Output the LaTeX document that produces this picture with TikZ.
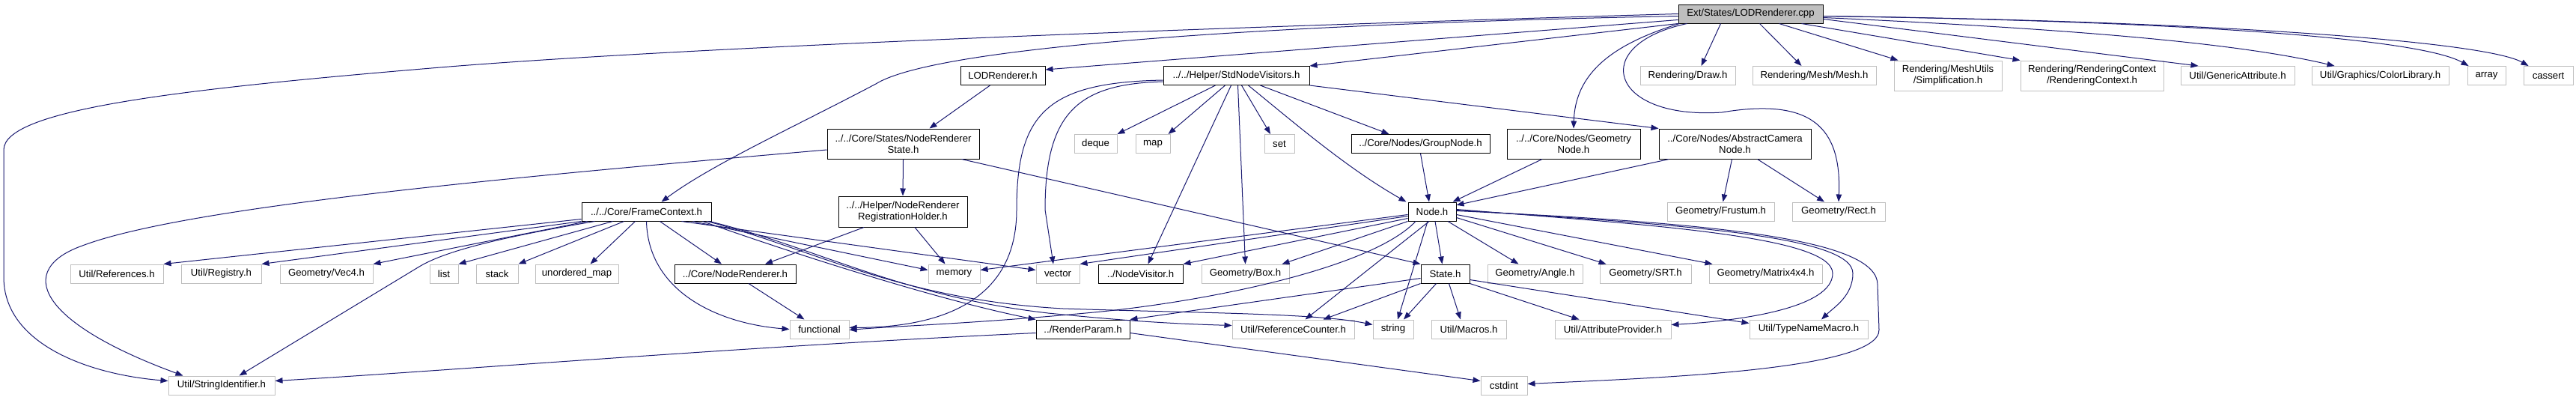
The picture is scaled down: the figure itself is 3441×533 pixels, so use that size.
\documentclass[tikz,border=0pt]{standalone}
\usepackage{fontspec}
\setmainfont{Liberation Sans}
\usepackage{tikz}
\usepackage{xcolor}
\usetikzlibrary{arrows.meta}
\definecolor{edgeblue}{RGB}{25,25,112}
\definecolor{extgray}{RGB}{191,191,191}

\begin{document}
\begin{tikzpicture}[x=1pt, y=-1pt, line width=1pt,
  hdr/.style={draw=black, font=\fontsize{13.2}{15}\selectfont, inner sep=0pt, minimum height=25pt, align=center},
  sysh/.style={hdr, draw=extgray},
  dep/.style={color=edgeblue, -{Triangle[length=10pt, width=7.5pt]}}]
  \useasboundingbox (0,0) rectangle (3441,533);

  % top
  \node[hdr, fill=extgray, minimum width=193pt] (root) at (2338.5,18.5) {Ext/States/LODRenderer.cpp};

  % second row
  \node[hdr, minimum width=113pt] (lodh) at (1339.5,101) {LODRenderer.h};
  \node[hdr, minimum width=195pt] (stdvis) at (1651.5,101) {../../Helper/StdNodeVisitors.h};
  \node[sysh, minimum width=127pt] (drawh) at (2254.5,101) {Rendering/Draw.h};
  \node[sysh, minimum width=165pt] (meshh) at (2423.5,101) {Rendering/Mesh/Mesh.h};
  \node[sysh, minimum width=144pt, minimum height=40pt] (simplh) at (2602,101) {Rendering/MeshUtils\\/Simplification.h};
  \node[sysh, minimum width=191pt, minimum height=40pt] (rctxh) at (2794.5,101) {Rendering/RenderingContext\\/RenderingContext.h};
  \node[sysh, minimum width=152pt] (gattr) at (2989,101) {Util/GenericAttribute.h};
  \node[sysh, minimum width=183pt] (colib) at (3179.5,101) {Util/Graphics/ColorLibrary.h};
  \node[sysh, minimum width=51pt] (arrayh) at (3321.5,101) {array};
  \node[sysh, minimum width=66pt] (cassrt) at (3404,101) {cassert};

  % third row
  \node[hdr, minimum width=203pt, minimum height=40pt] (nrstate) at (1206.5,192) {../../Core/States/NodeRenderer\\State.h};
  \node[sysh, minimum width=57pt] (deque) at (1463.5,192) {deque};
  \node[sysh, minimum width=46pt] (maph) at (1540,192) {map};
  \node[sysh, minimum width=40pt] (seth) at (1709,192) {set};
  \node[hdr, minimum width=185pt] (grpnode) at (1897.5,192) {../Core/Nodes/GroupNode.h};
  \node[hdr, minimum width=178pt, minimum height=40pt] (geonode) at (2102,192) {../../Core/Nodes/Geometry\\Node.h};
  \node[hdr, minimum width=203pt, minimum height=40pt] (camnode) at (2317.5,192) {../Core/Nodes/AbstractCamera\\Node.h};

  % fourth row
  \node[hdr, minimum width=172pt, minimum height=41pt] (nrreg) at (1206,282.5) {../../Helper/NodeRenderer\\RegistrationHolder.h};
  \node[hdr, minimum width=173pt] (frame) at (863.5,282.5) {../../Core/FrameContext.h};
  \node[hdr, minimum width=64pt] (nodeh) at (1913,282.5) {Node.h};
  \node[sysh, minimum width=143pt] (frust) at (2298.5,282.5) {Geometry/Frustum.h};
  \node[sysh, minimum width=124pt] (recth) at (2456,282.5) {Geometry/Rect.h};

  % fifth row
  \node[sysh, minimum width=124pt] (refs) at (156,365.5) {Util/References.h};
  \node[sysh, minimum width=107pt] (registry) at (295.5,365.5) {Util/Registry.h};
  \node[sysh, minimum width=124pt] (vec4) at (436,365.5) {Geometry/Vec4.h};
  \node[sysh, minimum width=38pt] (listh) at (593,365.5) {list};
  \node[sysh, minimum width=56pt] (stackh) at (664,365.5) {stack};
  \node[sysh, minimum width=111pt] (umap) at (770.5,365.5) {unordered\_map};
  \node[hdr, minimum width=162pt] (nrend) at (982,365.5) {../Core/NodeRenderer.h};
  \node[sysh, minimum width=69pt] (memory) at (1274.5,365.5) {memory};
  \node[sysh, minimum width=58pt] (vector) at (1413,365.5) {vector};
  \node[hdr, minimum width=113pt] (nvis) at (1523.5,365.5) {../NodeVisitor.h};
  \node[sysh, minimum width=117pt] (boxh) at (1663.5,365.5) {Geometry/Box.h};
  \node[hdr, minimum width=65pt] (state) at (1930.5,365.5) {State.h};
  \node[sysh, minimum width=127pt] (angle) at (2050.5,365.5) {Geometry/Angle.h};
  \node[sysh, minimum width=122pt] (srt) at (2198,365.5) {Geometry/SRT.h};
  \node[sysh, minimum width=151pt] (matrix) at (2358.5,365.5) {Geometry/Matrix4x4.h};

  % sixth row
  \node[sysh, minimum width=79pt] (func) at (1094.5,439.5) {functional};
  \node[hdr, minimum width=125pt] (rparam) at (1446.5,439.5) {../RenderParam.h};
  \node[sysh, minimum width=163pt] (refcnt) at (1727.5,439.5) {Util/ReferenceCounter.h};
  \node[sysh, minimum width=54pt] (stringh) at (1861,439.5) {string};
  \node[sysh, minimum width=100pt] (macros) at (1962,439.5) {Util/Macros.h};
  \node[sysh, minimum width=155pt] (attrp) at (2154.5,439.5) {Util/AttributeProvider.h};
  \node[sysh, minimum width=158pt] (tname) at (2416,439.5) {Util/TypeNameMacro.h};

  % bottom row
  \node[sysh, minimum width=142pt] (strid) at (296,514.5) {Util/StringIdentifier.h};
  \node[sysh, minimum width=62pt] (cstdint) at (2009,514.5) {cstdint};

  % from the cpp file
  \draw[dep] (root.west) .. controls (1500,40) and (900,65) .. (600,89) .. controls (250,118) and (5,145) .. (5,200) -- (5,370) .. controls (5,460) and (120,500) .. ([yshift=6pt]strid.west);
  \draw[dep] ([yshift=-3pt]root.west) .. controls (1700,32) and (1250,62) .. (1170,112) .. controls (1060,170) and (950,220) .. ([xshift=20pt]frame.north);
  \draw[dep] ([yshift=-8pt]root.west) -- (lodh.8);
  \draw[dep] (root.south west) -- (stdvis.north east);
  \draw[dep] ([xshift=2pt]root.south west) .. controls (2150,60) and (2104,100) .. (geonode.north);
  \draw[dep] ([xshift=-40pt]root.south) -- ([xshift=18pt]drawh.north);
  \draw[dep] ([xshift=12pt]root.south west) .. controls (2120,60) and (2150,160) .. (2300,150) .. controls (2420,130) and (2460,170) .. (recth.north);
  \draw[dep] ([xshift=12pt]root.south) -- ([xshift=-17pt]meshh.north);
  \draw[dep] ([xshift=38pt]root.south) -- ([xshift=6pt]simplh.north west);
  \draw[dep] ([xshift=68pt]root.south) -- (rctxh.north west);
  \draw[dep] ([yshift=-7pt]root.east) -- ([xshift=24pt]gattr.north west);
  \draw[dep] ([yshift=-5pt]root.east) .. controls (2800,40) and (3000,60) .. ([xshift=31pt]colib.north west);
  \draw[dep] ([yshift=-3pt]root.east) .. controls (2900,28) and (3230,50) .. ([xshift=2pt]arrayh.north west);
  \draw[dep] ([yshift=-3pt]root.east) .. controls (2950,28) and (3320,55) .. ([xshift=7pt]cassrt.north west);

  % StdNodeVisitors.h
  \draw[dep] ([xshift=-28pt]stdvis.south) -- (deque.north east);
  \draw[dep] ([xshift=-15pt]stdvis.south) -- ([xshift=-3pt]maph.north east);
  \draw[dep] ([xshift=-7pt]stdvis.south) -- ([xshift=10pt]nvis.north);
  \draw[dep] ([xshift=2pt]stdvis.south) -- (boxh.north);
  \draw[dep] ([xshift=7pt]stdvis.south) -- ([xshift=-12pt]seth.north);
  \draw[dep] ([xshift=16pt]stdvis.south) .. controls (1730,165) and (1800,225) .. ([xshift=-2pt]nodeh.north west);
  \draw[dep] ([xshift=32pt]stdvis.south) -- ([xshift=-42pt]grpnode.north);
  \draw[dep] (stdvis.south east) -- (camnode.north west);
  \draw[dep] ([yshift=-6pt]stdvis.west) .. controls (1400,110) and (1358,150) .. (1358,280) .. controls (1358,400) and (1260,437) .. ([yshift=2pt]func.east);
  \draw[dep] ([yshift=-8pt]stdvis.west) .. controls (1440,112) and (1396,150) .. (1396,280) -- ([xshift=-6pt]vector.north);

  % LODRenderer.h and NodeRendererState.h
  \draw[dep] ([xshift=-17pt]lodh.south) -- ([xshift=35pt]nrstate.north);
  \draw[dep] (nrstate.south) -- (nrreg.north);
  \draw[dep] ([yshift=-8pt]nrstate.west) .. controls (700,235) and (250,275) .. (110,328) .. controls (20,360) and (50,430) .. ([xshift=20pt]strid.north west);
  \draw[dep] ([xshift=78pt]nrstate.south) -- (state.north west);
  \draw[dep] ([xshift=16pt]nrreg.south) -- ([xshift=-12pt]memory.north);
  \draw[dep] ([xshift=-52pt]nrreg.south) -- ([xshift=40pt]nrend.north);

  % FrameContext.h
  \draw[dep] ([yshift=-10pt]frame.west) -- (refs.north east);
  \draw[dep] (frame.south west) -- (registry.north east);
  \draw[dep] ([xshift=8pt]frame.south west) -- (vec4.north east);
  \draw[dep] ([xshift=18pt]frame.south west) .. controls (650,320) and (590,338) .. (560,356) -- ([xshift=-48pt]strid.north east);
  \draw[dep] ([xshift=42pt]frame.south west) -- (listh.north east);
  \draw[dep] ([xshift=57pt]frame.south west) -- (stackh.north east);
  \draw[dep] ([xshift=72pt]frame.south west) -- ([xshift=18pt]umap.north);
  \draw[dep] (frame.south) .. controls (866,390) and (960,432) .. (func.west);
  \draw[dep] ([xshift=18pt]frame.south) -- ([xshift=-18pt]nrend.north);
  \draw[dep] ([xshift=-40pt]frame.south east) -- ([yshift=5pt]vector.west);
  \draw[dep] ([xshift=-25pt]frame.south east) -- ([yshift=5pt]memory.west);
  \draw[dep] ([xshift=-12pt]frame.south east) .. controls (1050,335) and (1250,400) .. (rparam.north west);
  \draw[dep] ([xshift=-6pt]frame.south east) .. controls (1080,330) and (1200,400) .. (1420,412) .. controls (1600,418) and (1760,418) .. ([yshift=6pt]stringh.west);
  \draw[dep] ([xshift=-3pt]frame.south east) .. controls (1090,330) and (1200,395) .. (1400,418) .. controls (1500,428) and (1560,432) .. ([yshift=5pt]refcnt.west);

  % Node.h
  \draw[dep] ([yshift=-4pt]nodeh.west) -- ([yshift=5pt]memory.east);
  \draw[dep] ([yshift=-6pt]nodeh.west) -- (vector.north east);
  \draw[dep] ([yshift=-9pt]nodeh.west) -- (nvis.north east);
  \draw[dep] (nodeh.south west) -- ([xshift=-10pt]boxh.north east);
  \draw[dep] ([xshift=-22pt]nodeh.south) .. controls (1830,360) and (1600,405) .. (1450,418) .. controls (1300,432) and (1200,435) .. ([yshift=-1pt]func.east);
  \draw[dep] ([xshift=-4pt]nodeh.south) -- ([xshift=16pt]refcnt.north);
  \draw[dep] ([xshift=-6pt]nodeh.south) -- ([xshift=6pt]stringh.north);
  \draw[dep] ([xshift=4pt]nodeh.south) -- ([xshift=-4pt]state.north);
  \draw[dep] ([xshift=21pt]nodeh.south) -- ([xshift=-22pt]angle.north);
  \draw[dep] ([yshift=-8pt]nodeh.east) -- ([xshift=9pt]srt.north west);
  \draw[dep] ([yshift=-4pt]nodeh.east) -- ([xshift=5pt]matrix.north west);
  \draw[dep] ([yshift=3pt]nodeh.east) .. controls (2200,300) and (2448,315) .. (2448,365) .. controls (2448,410) and (2330,428) .. ([yshift=6pt]attrp.east);
  \draw[dep] ([yshift=2pt]nodeh.east) .. controls (2250,300) and (2475,315) .. (2475,365) .. controls (2475,395) and (2450,410) .. ([xshift=17pt]tname.north);
  \draw[dep] ([yshift=1pt]nodeh.east) .. controls (2300,298) and (2508,320) .. (2508,380) -- (2510,440) .. controls (2512,495) and (2200,505) .. ([yshift=2pt]cstdint.east);

  % State.h
  \draw[dep] ([yshift=-6pt]state.west) -- (rparam.north east);
  \draw[dep] (state.south west) -- ([xshift=40pt]refcnt.north);
  \draw[dep] ([xshift=-12pt]state.south) -- ([xshift=14pt]stringh.north);
  \draw[dep] ([xshift=5pt]state.south) -- ([xshift=-11pt]macros.north);
  \draw[dep] (state.south east) -- ([xshift=33pt]attrp.north west);
  \draw[dep] ([yshift=-8pt]state.east) -- ([yshift=8pt]tname.west);

  % RenderParam.h, NodeRenderer.h
  \draw[dep] ([yshift=-5pt]rparam.west) .. controls (1000,462) and (600,495) .. ([yshift=6pt]strid.east);
  \draw[dep] ([yshift=-5pt]rparam.east) -- ([yshift=6pt]cstdint.west);
  \draw[dep] ([xshift=18pt]nrend.south) -- ([xshift=-20pt]func.north);

  % nodes classes
  \draw[dep] (grpnode.south) -- ([xshift=-4pt]nodeh.north);
  \draw[dep] ([xshift=-42pt]geonode.south) -- ([xshift=-5pt]nodeh.north east);
  \draw[dep] ([xshift=14pt]camnode.south west) -- (nodeh.15);
  \draw[dep] ([xshift=-4pt]camnode.south) -- ([xshift=3pt]frust.north);
  \draw[dep] ([xshift=30pt]camnode.south) -- ([xshift=-19pt]recth.north);
\end{tikzpicture}
\end{document}
